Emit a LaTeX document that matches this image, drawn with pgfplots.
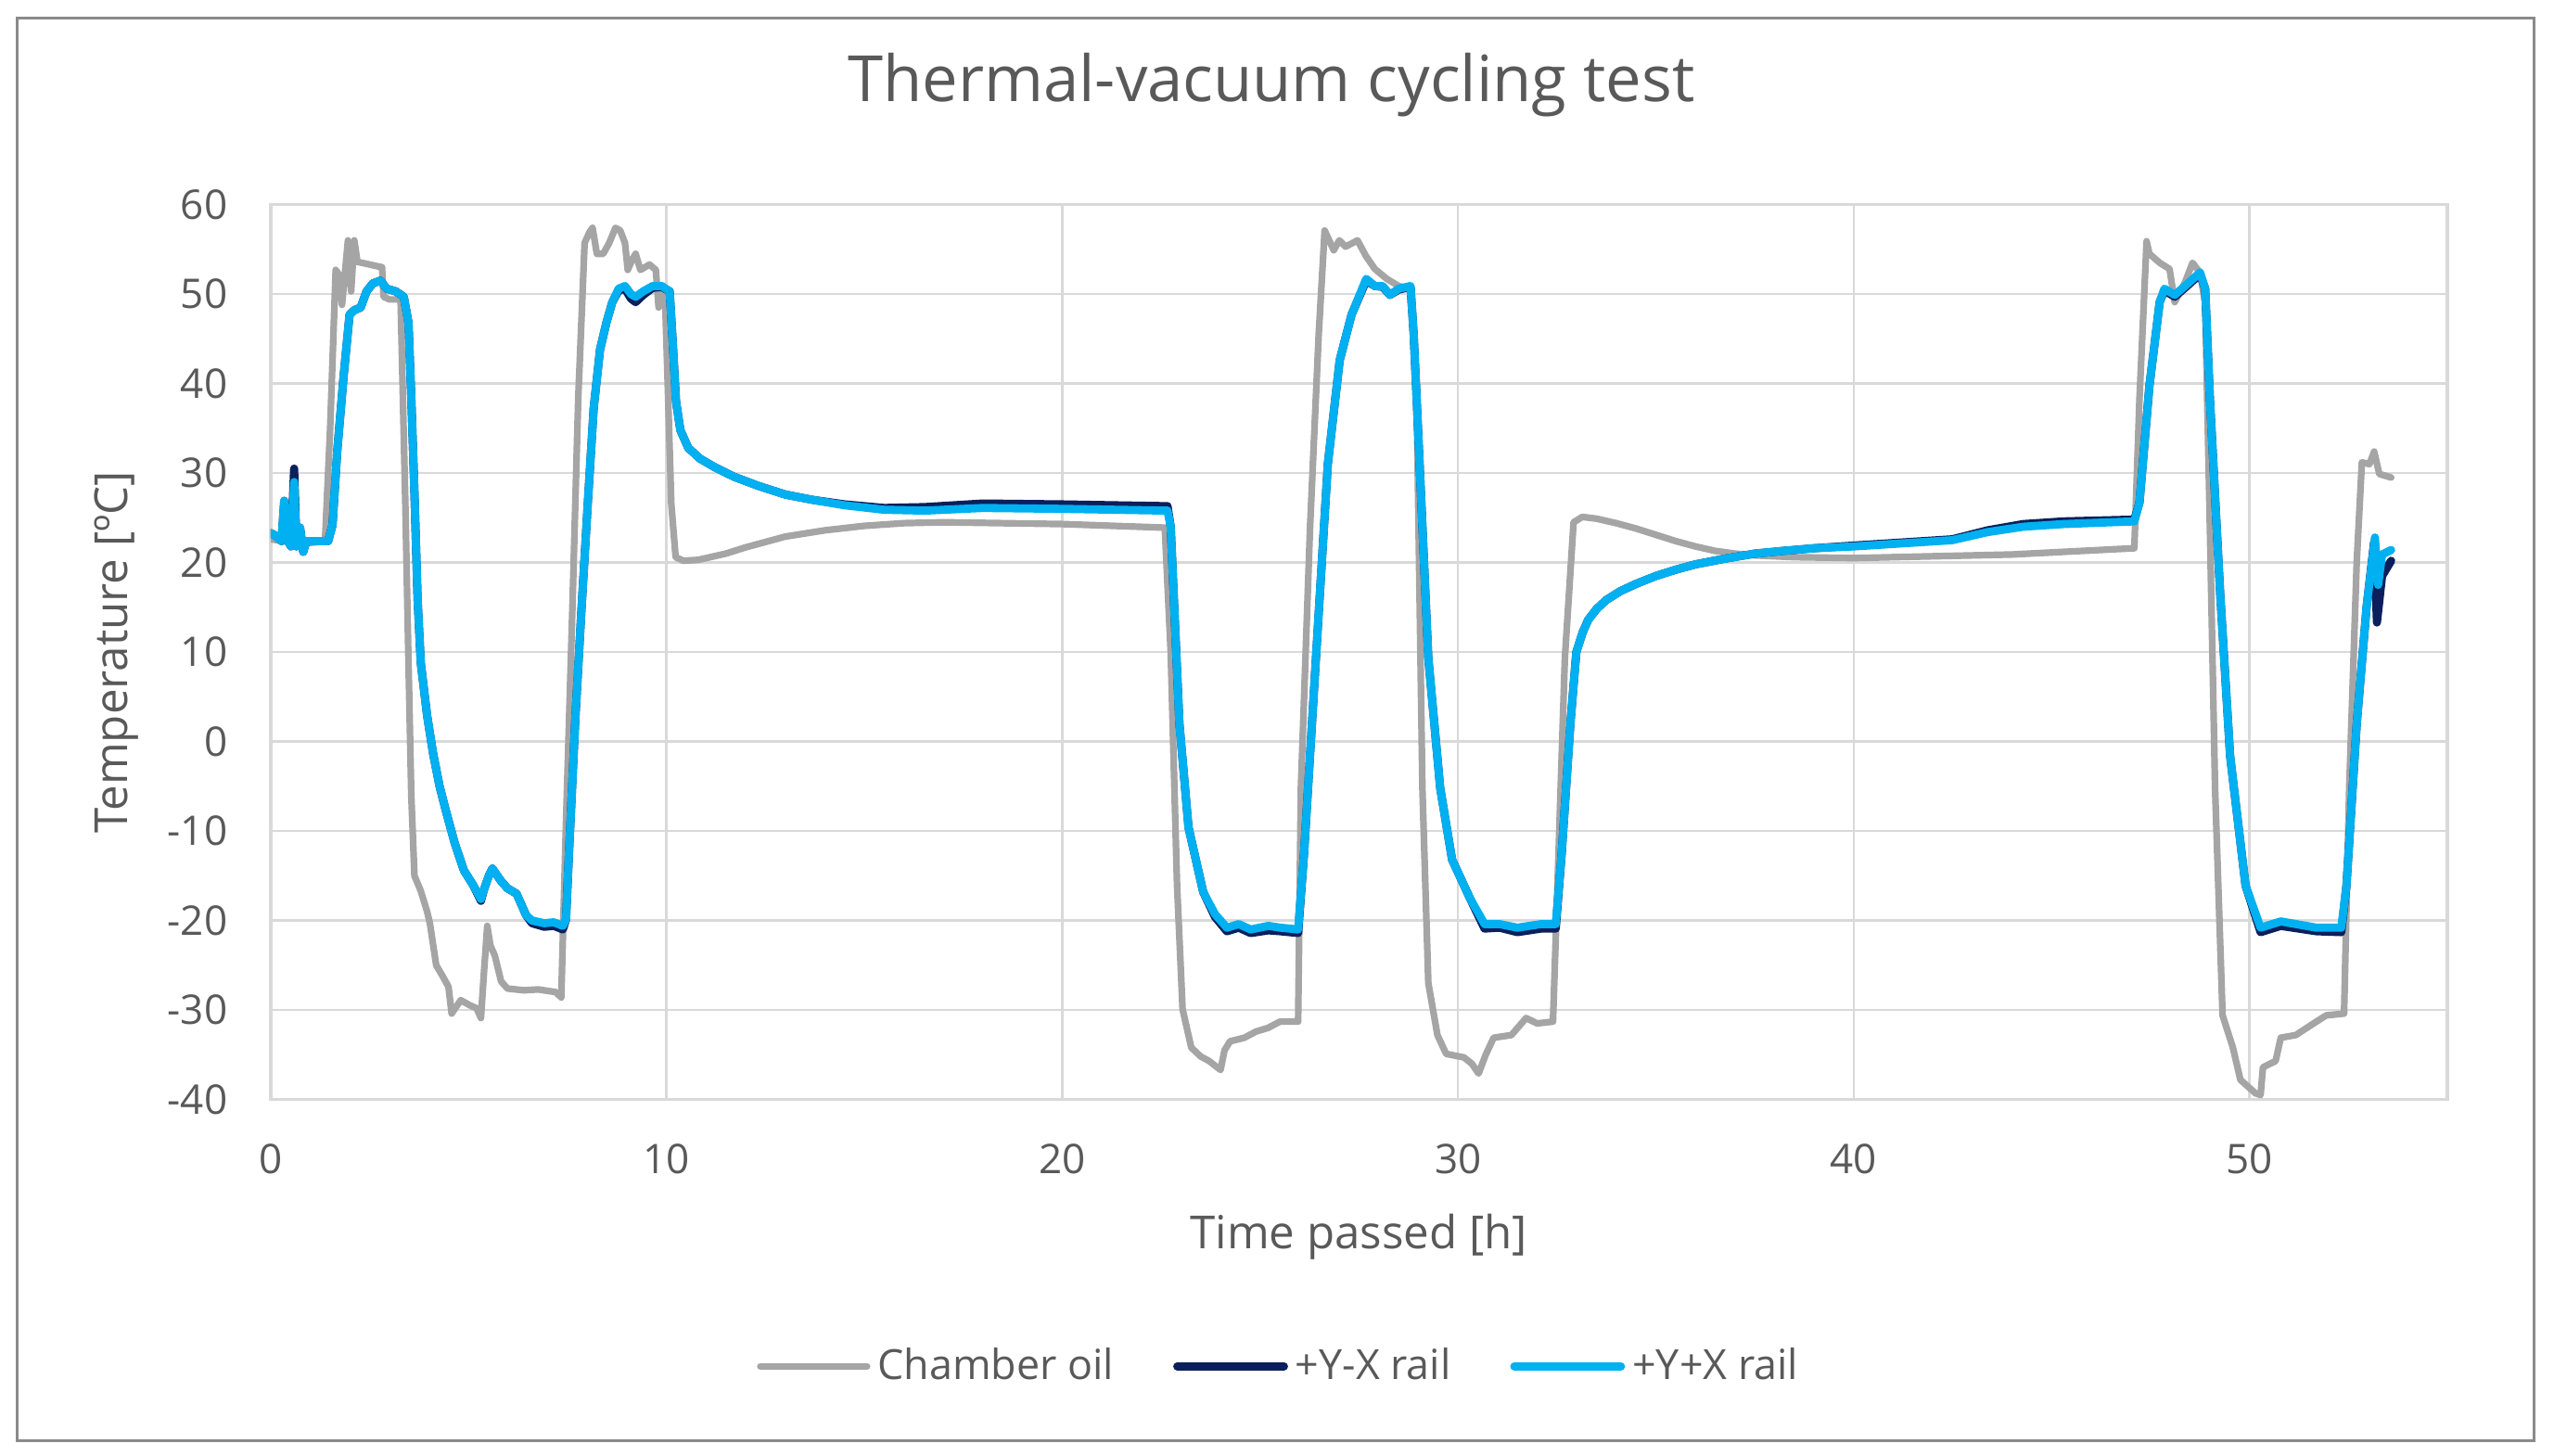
\documentclass[border=0pt]{standalone}
\usepackage{pgfplots}
\pgfplotsset{compat=1.18}
\usepackage{fontspec}
\setmainfont{Open Sans}
\definecolor{txtgray}{HTML}{595959}
\definecolor{gridgray}{HTML}{D9D9D9}
\definecolor{oilgray}{HTML}{A5A5A5}
\definecolor{navyc}{HTML}{0B1F5C}
\definecolor{lightb}{HTML}{00B0F0}
\definecolor{framec}{HTML}{8A8A8A}
\begin{document}
\begin{tikzpicture}
\useasboundingbox (-73pt,-96.1pt) rectangle (615.5pt,296.4pt);
\begin{axis}[
  at={(0pt,0pt)}, anchor=south west,
  scale only axis, width=586.75pt, height=241.25pt,
  xmin=0, xmax=55, ymin=-40, ymax=60,
  xtick={0,10,20,30,40,50}, ytick={-40,-30,-20,-10,0,10,20,30,40,50,60},
  xticklabels={0,10,20,30,40,50},
  yticklabels={-40,-30,-20,-10,0,10,20,30,40,50,60},
  grid=major, major grid style={gridgray, line width=0.65pt},
  axis line style={gridgray, line width=0.8pt},
  major tick length=0pt,
  tick style={draw=none},
  ticklabel style={font=\fontsize{11}{13}\selectfont, text=txtgray},
  xticklabel style={anchor=base, yshift=-20.1pt},
  yticklabel style={anchor=east, inner sep=0pt, xshift=-11.5pt},
  xlabel={Time passed [h]},
  ylabel={Temperature [ºC]},
  label style={font=\fontsize{12.3}{14}\selectfont, text=txtgray},
  xlabel style={at={(axis description cs:0.4998,-0.167)}, anchor=base},
  ylabel style={at={(axis description cs:-0.0707,0.5)}, anchor=center},
  title={Thermal-vacuum cycling test},
  title style={at={(axis description cs:0.4597,1.0906)}, anchor=base, font=\fontsize{17.2}{19}\selectfont, text=txtgray},
  legend columns=3,
  legend style={at={(axis description cs:0.4643,-0.298)}, anchor=center, draw=none, fill=none,
    font=\fontsize{11.2}{13}\selectfont, text=txtgray,
    /tikz/every even column/.append style={column sep=14pt}},
  legend image code/.code={\draw[#1] (0pt,0pt) -- (28.75pt,0pt);},
  every axis plot/.append style={line join=round, line cap=round},
]
\addplot[oilgray, line width=1.8pt] coordinates {
(0,22.6) (0.3,22.4) (0.6,22.3) (1.0,22.2) (1.37,22.4) (1.5,35) (1.64,52.7) (1.72,52.2) (1.8,48.8) (1.95,56.0) (2.03,50.3) (2.11,56.0) (2.19,53.6) (2.4,53.4) (2.6,53.2) (2.81,53.0) (2.85,49.7) (3.0,49.4) (3.28,49.4) (3.40,26.6) (3.48,8.8) (3.55,-6.0) (3.63,-15.0) (3.79,-16.7) (3.95,-19.0) (4.02,-20.3) (4.18,-25.0) (4.34,-26.2) (4.49,-27.4) (4.57,-30.4) (4.80,-28.9) (5.04,-29.5) (5.20,-29.8) (5.31,-30.9) (5.39,-25.6) (5.47,-20.6) (5.55,-22.8) (5.66,-23.9) (5.82,-26.8) (5.98,-27.6) (6.4,-27.8) (6.76,-27.7) (7.2,-28.0) (7.34,-28.6) (7.46,-9.0) (7.62,14.7) (7.77,38.5) (7.93,55.7) (8.05,56.9) (8.13,57.4) (8.24,54.5) (8.40,54.5) (8.55,55.7) (8.71,57.4) (8.83,57.1) (8.95,55.7) (9.02,52.7) (9.14,53.9) (9.22,54.5) (9.34,52.7) (9.57,53.3) (9.73,52.7) (9.80,48.5) (9.88,50.3) (9.96,50.0) (10.04,38.5) (10.12,26.6) (10.23,20.6) (10.43,20.2) (10.8,20.3) (11.5,21.0) (12.0,21.7) (13.0,22.9) (14.0,23.6) (15.0,24.1) (16.0,24.4) (17,24.5) (20,24.3) (22.59,23.9) (22.74,10) (22.9,-16) (23.04,-29.9) (23.26,-34.2) (23.5,-35.2) (23.71,-35.7) (24.0,-36.7) (24.1,-34.5) (24.24,-33.5) (24.6,-33.1) (24.9,-32.4) (25.2,-32.0) (25.5,-31.3) (25.96,-31.3) (26.03,-5.2) (26.26,23.8) (26.48,45.5) (26.63,57.1) (26.86,54.9) (27.0,56) (27.16,55.3) (27.46,56.0) (27.68,54.2) (27.9,52.8) (28.2,51.7) (28.5,50.9) (28.8,50.6) (28.95,40) (29.1,-5.2) (29.25,-27) (29.48,-32.8) (29.7,-34.9) (30.15,-35.3) (30.35,-36.0) (30.52,-37.1) (30.7,-35) (30.9,-33.1) (31.35,-32.8) (31.72,-30.9) (32.0,-31.5) (32.4,-31.3) (32.54,-12.5) (32.7,9.3) (32.92,24.5) (33.14,25.1) (33.5,24.9) (34.0,24.4) (34.5,23.8) (35.0,23.1) (35.5,22.4) (36.0,21.8) (36.5,21.3) (37.0,21.0) (37.5,20.8) (38.5,20.6) (40,20.5) (44,20.9) (47.09,21.6) (47.22,38.3) (47.40,55.9) (47.47,54.5) (47.6,54.0) (47.73,53.5) (47.98,52.8) (48.11,49.1) (48.37,51.3) (48.56,53.5) (48.75,52.4) (48.88,49) (49.0,23.8) (49.13,-5.2) (49.32,-30.6) (49.58,-34.2) (49.77,-37.8) (50.15,-39.3) (50.28,-39.5) (50.34,-36.4) (50.66,-35.7) (50.79,-33.1) (51.17,-32.8) (51.69,-31.3) (51.94,-30.6) (52.39,-30.4) (52.52,-5.2) (52.71,20.1) (52.84,31.2) (53.03,31.0) (53.15,32.4) (53.28,29.9) (53.58,29.5)
};
\addlegendentry{Chamber oil}
\addplot[navyc, line width=2.2pt] coordinates {
(0,23.3) (0.12,23) (0.27,22.4) (0.34,26.9) (0.43,22.4) (0.51,21.8) (0.59,30.5) (0.65,21.8) (0.74,23.9) (0.82,21.2) (0.90,22.4) (1.1,22.4) (1.45,22.4) (1.56,24.2) (1.68,32.5) (1.84,40.8) (1.99,47.7) (2.11,48.2) (2.27,48.5) (2.42,50.3) (2.58,51.2) (2.77,51.5) (2.93,50.6) (3.16,50.3) (3.36,49.7) (3.48,46.8) (3.55,38.5) (3.63,27.8) (3.71,15.9) (3.79,8.8) (3.95,2.9) (4.10,-1.3) (4.26,-4.9) (4.41,-7.5) (4.65,-11.4) (4.88,-14.4) (5.12,-16.1) (5.31,-17.8) (5.39,-16.5) (5.51,-15.0) (5.60,-14.2) (5.82,-15.6) (5.98,-16.4) (6.21,-17.0) (6.45,-19.4) (6.60,-20.3) (6.91,-20.7) (7.15,-20.6) (7.38,-21.0) (7.46,-19.9) (7.54,-12.0) (7.70,2.9) (7.85,14.7) (8.01,26.6) (8.16,37.3) (8.32,43.8) (8.48,46.8) (8.63,49.1) (8.79,50.4) (8.95,50.6) (9.10,49.5) (9.22,49.1) (9.41,49.9) (9.65,50.7) (9.88,50.8) (10.08,50.3) (10.16,44.4) (10.24,38.0) (10.35,34.8) (10.55,32.8) (10.85,31.6) (11.2,30.7) (11.7,29.6) (12.3,28.6) (13.0,27.6) (13.7,27.0) (14.5,26.5) (15.5,26.1) (16.53,26.2) (18.0,26.6) (20,26.5) (22.66,26.3) (22.74,24) (22.96,2) (23.19,-9.6) (23.56,-16.8) (23.86,-19.6) (24.16,-21.2) (24.46,-20.8) (24.76,-21.4) (25.21,-21.1) (25.51,-21.2) (25.96,-21.4) (26.11,-12.5) (26.41,9.3) (26.71,31.0) (27.01,42.6) (27.31,47.7) (27.68,51.5) (27.90,50.9) (28.10,50.8) (28.28,49.9) (28.50,50.5) (28.80,50.8) (28.88,45.5) (29.03,31.0) (29.25,9.3) (29.55,-5.2) (29.85,-13.2) (30.30,-17.5) (30.67,-20.9) (31.05,-20.8) (31.50,-21.3) (32.10,-20.9) (32.47,-20.9) (32.62,-12.5) (32.84,2.0) (32.99,10.0) (33.15,12.2) (33.29,13.6) (33.5,14.8) (33.74,15.8) (34.1,16.8) (34.49,17.6) (35.0,18.5) (35.5,19.2) (36.0,19.8) (36.7,20.4) (37.5,21.0) (38.2,21.3) (39.0,21.6) (40.0,21.9) (42.49,22.6) (43.38,23.6) (44.28,24.3) (45.3,24.6) (47.09,24.8) (47.22,26.7) (47.47,39.7) (47.73,49.1) (47.85,50.4) (48.11,49.7) (48.37,50.7) (48.75,52.2) (48.88,50.6) (49.0,38.3) (49.26,16.5) (49.51,-1.6) (49.9,-16.1) (50.28,-21.3) (50.79,-20.6) (51.69,-21.2) (52.32,-21.3) (52.45,-16.1) (52.71,2) (52.96,15.1) (53.15,22.3) (53.22,13.3) (53.35,18.5) (53.58,20.2)
};
\addlegendentry{+Y-X rail}
\addplot[lightb, line width=2.2pt] coordinates {
(0,23.3) (0.12,23) (0.27,22.4) (0.34,26.9) (0.43,22.4) (0.51,21.8) (0.59,29.0) (0.65,21.8) (0.74,23.9) (0.82,21.2) (0.90,22.4) (1.1,22.4) (1.45,22.4) (1.56,24.2) (1.68,32.5) (1.84,40.8) (1.99,47.7) (2.11,48.2) (2.27,48.5) (2.42,50.3) (2.58,51.2) (2.77,51.5) (2.93,50.6) (3.16,50.3) (3.36,49.7) (3.48,46.8) (3.55,38.5) (3.63,27.8) (3.71,15.9) (3.79,8.8) (3.95,2.9) (4.10,-1.3) (4.26,-4.9) (4.41,-7.5) (4.65,-11.4) (4.88,-14.4) (5.12,-16.1) (5.31,-17.6) (5.39,-16.5) (5.51,-15.0) (5.60,-14.2) (5.82,-15.6) (5.98,-16.4) (6.21,-17.0) (6.45,-19.4) (6.60,-20.0) (6.91,-20.3) (7.15,-20.2) (7.38,-20.6) (7.46,-19.9) (7.54,-12.0) (7.70,2.9) (7.85,14.7) (8.01,26.6) (8.16,37.3) (8.32,43.8) (8.48,46.8) (8.63,49.1) (8.79,50.6) (8.95,50.9) (9.10,50.0) (9.22,49.7) (9.41,50.3) (9.65,50.9) (9.88,50.9) (10.08,50.3) (10.16,44.4) (10.24,38.0) (10.35,34.8) (10.55,32.8) (10.85,31.6) (11.2,30.7) (11.7,29.6) (12.3,28.6) (13.0,27.6) (13.7,27.0) (14.5,26.4) (15.5,25.9) (16.53,25.8) (18.0,26.1) (20,26.0) (22.66,25.8) (22.74,24) (22.96,2) (23.19,-9.6) (23.56,-16.8) (23.86,-19.3) (24.16,-20.8) (24.46,-20.4) (24.76,-21.0) (25.21,-20.6) (25.51,-20.8) (25.96,-21.0) (26.11,-12.5) (26.41,9.3) (26.71,31.0) (27.01,42.6) (27.31,47.7) (27.68,51.7) (27.90,50.9) (28.10,50.9) (28.28,49.9) (28.50,50.6) (28.80,50.9) (28.88,45.5) (29.03,31.0) (29.25,9.3) (29.55,-5.2) (29.85,-13.2) (30.30,-17.5) (30.67,-20.4) (31.05,-20.4) (31.50,-20.8) (32.10,-20.4) (32.47,-20.4) (32.62,-12.5) (32.84,2.0) (32.99,10.0) (33.15,12.2) (33.29,13.6) (33.5,14.8) (33.74,15.8) (34.1,16.8) (34.49,17.6) (35.0,18.5) (35.5,19.2) (36.0,19.8) (36.7,20.4) (37.5,21.0) (38.2,21.3) (39.0,21.6) (40.0,21.8) (42.49,22.5) (43.38,23.4) (44.28,24.0) (45.3,24.3) (47.09,24.6) (47.22,26.7) (47.47,39.7) (47.73,49.1) (47.85,50.6) (48.11,49.9) (48.37,50.9) (48.75,52.4) (48.88,50.6) (49.0,38.3) (49.26,16.5) (49.51,-1.6) (49.9,-16.1) (50.28,-20.8) (50.79,-20.1) (51.69,-20.8) (52.32,-20.8) (52.45,-16.1) (52.71,2) (52.96,15.1) (53.17,22.8) (53.25,17.5) (53.35,20.9) (53.58,21.4)
};
\addlegendentry{+Y+X rail}
\end{axis}
\draw[framec, line width=0.75pt] (-68.25pt,-91.9pt) rectangle (610pt,291.4pt);
\end{tikzpicture}
\end{document}
